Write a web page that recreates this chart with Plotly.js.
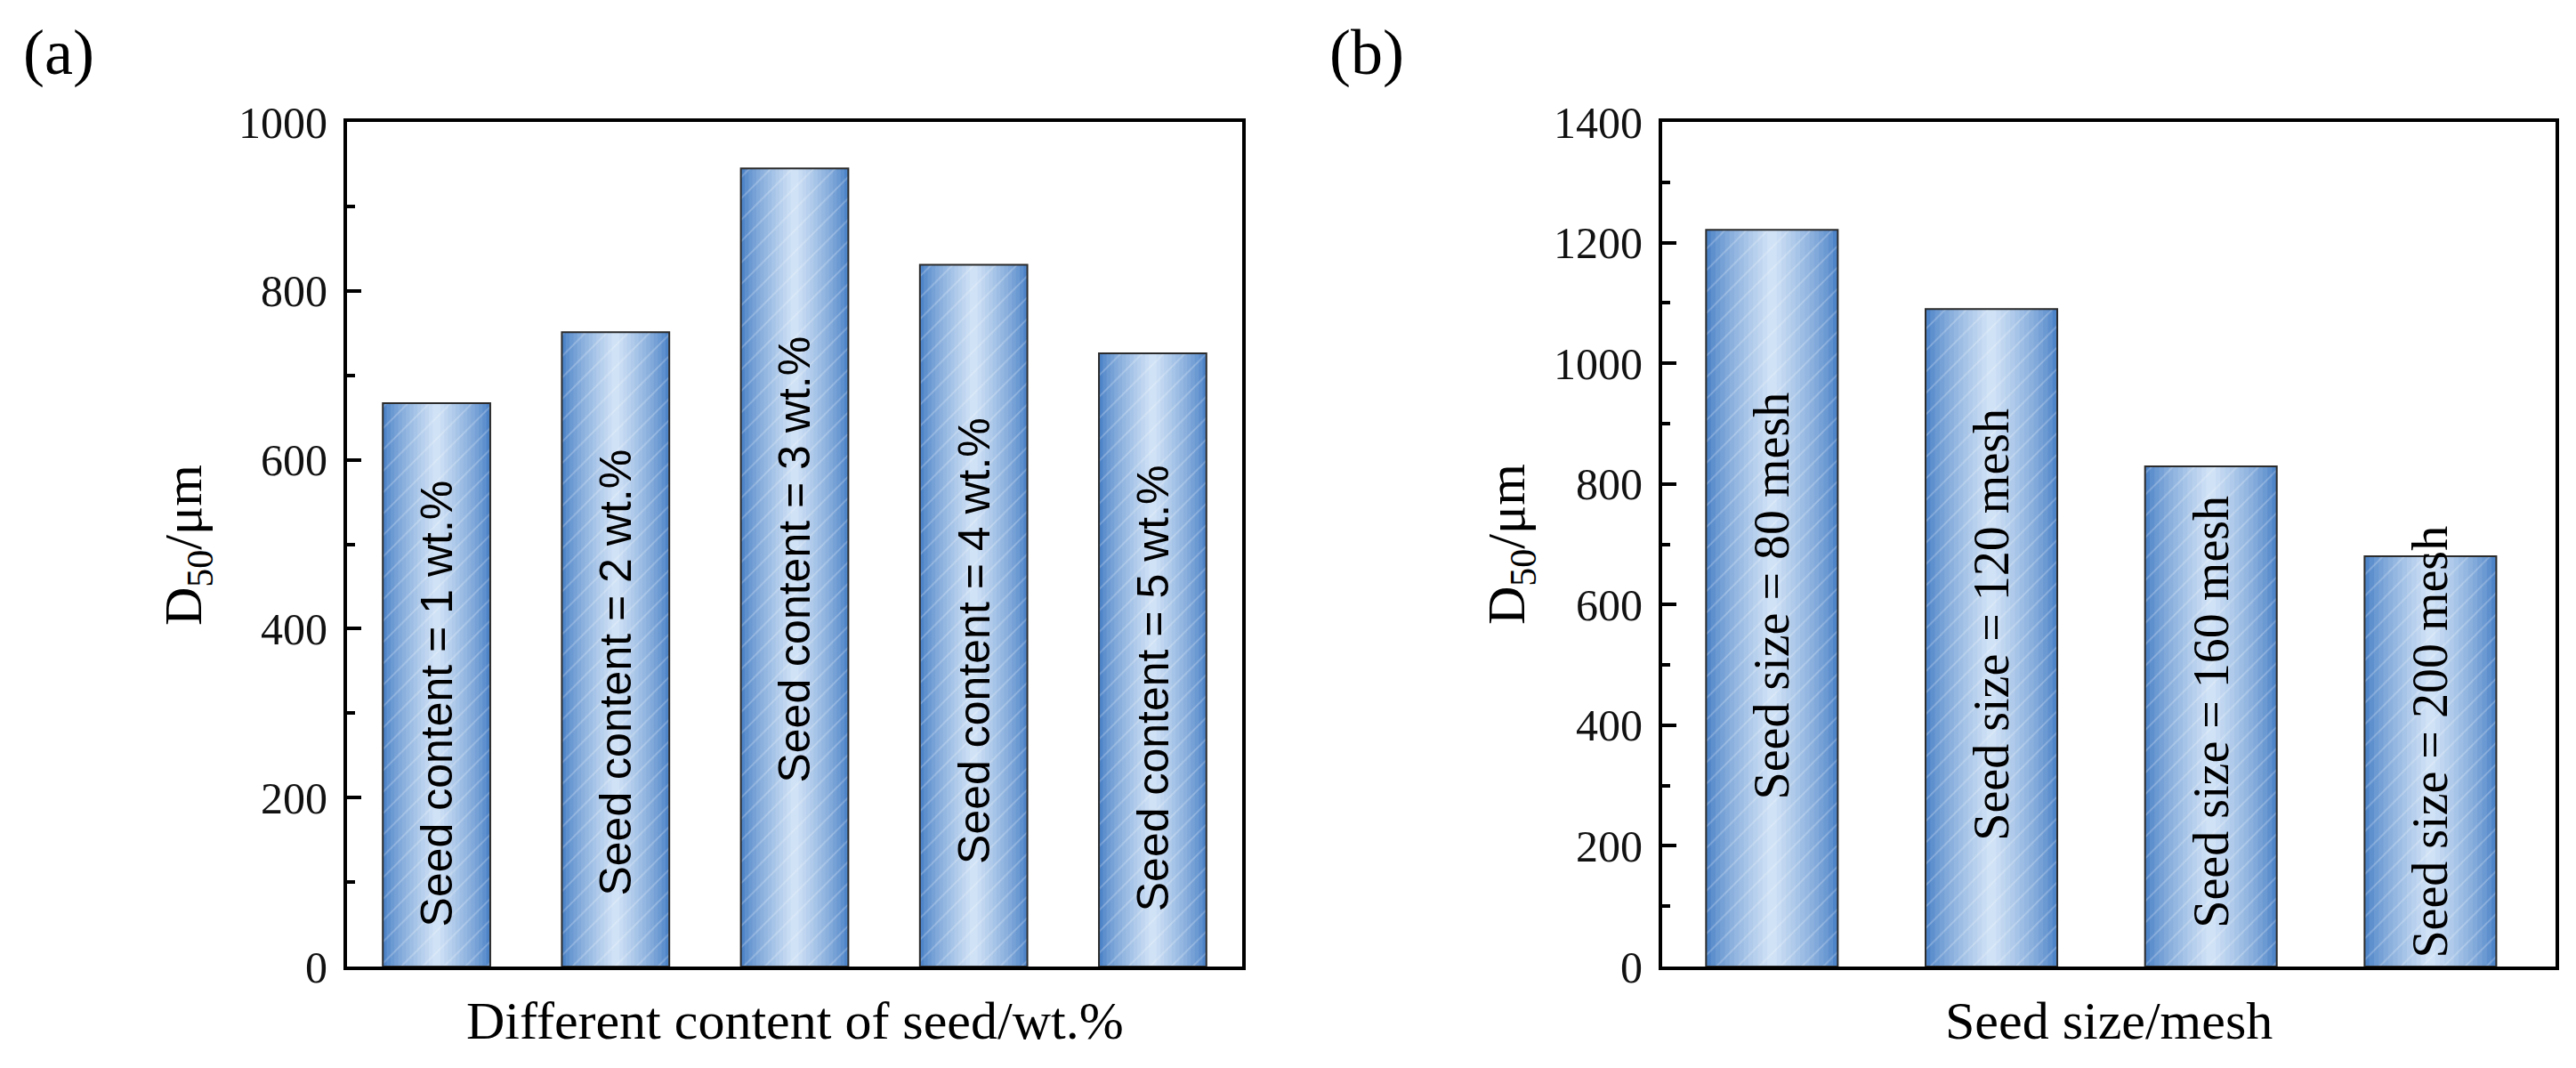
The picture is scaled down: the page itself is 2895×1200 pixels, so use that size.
<!DOCTYPE html>
<html>
<head>
<meta charset="utf-8">
<script src="https://cdn.plot.ly/plotly-3.0.1.min.js"></script>
<style>
  html, body { margin: 0; padding: 0; background: #ffffff; }
  #chart { width: 2895px; height: 1200px; }
</style>
</head>
<body>
<div id="chart"></div>
<script>
// ---------- DATA ----------
// Panel (a): different seed content
const seedContentLabels = ['Seed content = 1 wt.%', 'Seed content = 2 wt.%', 'Seed content = 3 wt.%', 'Seed content = 4 wt.%', 'Seed content = 5 wt.%'];
const d50ByContent = [667, 751, 945, 831, 726];
const contentLabelMid = [311, 348, 482, 386, 330];   // label centre height (µm) inside each bar

// Panel (b): different seed size
const seedSizeLabels = ['Seed size = 80 mesh', 'Seed size = 120 mesh', 'Seed size = 160 mesh', 'Seed size = 200 mesh'];
const d50BySize = [1221, 1090, 829, 680];
const sizeLabelMid = [615, 567, 422, 373];

const yTicksA = [0, 200, 400, 600, 800, 1000];
const yTicksB = [0, 200, 400, 600, 800, 1000, 1200, 1400];

const xTitleA = 'Different content of seed/wt.%';
const xTitleB = 'Seed size/mesh';
const yTitle = 'D<sub>50</sub>/μm';

// ---------- STYLE ----------
const W = 2895, H = 1200;
const SERIF = 'Liberation Serif, Times New Roman, serif';
const SANS = 'Liberation Sans, Arial, sans-serif';
const BAR_W = 0.6;
const edge = [78, 132, 200], center = [208, 226, 246];
const LAYERS = 14;

function gradientTraces(x, y, xa, ya) {
  const out = [];
  for (let k = 0; k < LAYERS; k++) {
    const t = k / (LAYERS - 1);
    const s = Math.pow(t, 0.8);
    const c = edge.map((e, i) => Math.round(e + (center[i] - e) * s));
    out.push({
      type: 'bar', x: x, y: y, xaxis: xa, yaxis: ya,
      width: BAR_W * (1 - k / LAYERS),
      marker: { color: 'rgb(' + c.join(',') + ')', line: { width: 0 } },
      hoverinfo: 'skip', showlegend: false
    });
  }
  out.push({
    type: 'bar', x: x, y: y, xaxis: xa, yaxis: ya, width: BAR_W,
    marker: {
      color: 'rgba(0,0,0,0)',
      line: { color: '#2b2b2b', width: 2 },
      pattern: { shape: '/', fgcolor: 'rgba(255,255,255,0.5)', fgopacity: 0.5, size: 17, solidity: 0.1, fillmode: 'overlay' }
    },
    showlegend: false
  });
  return out;
}

const traces = [].concat(
  gradientTraces(seedContentLabels, d50ByContent, 'x', 'y'),
  gradientTraces(seedSizeLabels, d50BySize, 'x2', 'y2')
);

const yBottom = (H - 1086) / H, yTop = (H - 137) / H;

function xAxis(domain, range) {
  return {
    domain: domain, range: range, type: 'category',
    showticklabels: false, ticks: '', showgrid: false, zeroline: false,
    showline: true, linecolor: '#000', linewidth: 4, mirror: true, fixedrange: true
  };
}
function yAxis(anchor, range, tickvals) {
  return {
    anchor: anchor, domain: [yBottom, yTop], range: range,
    tickmode: 'array', tickvals: tickvals, ticktext: tickvals.map(String),
    ticks: 'inside', ticklen: 16, tickwidth: 4, tickcolor: '#000',
    minor: { dtick: 100, ticks: 'inside', ticklen: 9, tickwidth: 4, tickcolor: '#000' },
    tickfont: { family: SERIF, size: 50, color: '#111' },
    ticklabelstandoff: 8,
    showgrid: false, zeroline: false,
    showline: true, linecolor: '#000', linewidth: 4, mirror: true, fixedrange: true
  };
}

const annotations = [];
seedContentLabels.forEach((lab, i) => {
  annotations.push({
    xref: 'x', yref: 'y', x: lab, y: contentLabelMid[i], text: lab, textangle: -90,
    showarrow: false, xanchor: 'center', yanchor: 'middle',
    font: { family: SANS, size: 50, color: '#000' }
  });
});
seedSizeLabels.forEach((lab, i) => {
  annotations.push({
    xref: 'x2', yref: 'y2', x: lab, y: sizeLabelMid[i], text: lab, textangle: -90,
    showarrow: false, xanchor: 'center', yanchor: 'middle',
    font: { family: SERIF, size: 56, color: '#000' }
  });
});
// axis titles and panel letters
const titleFont = { family: SERIF, size: 60, color: '#000' };
annotations.push(
  { xref: 'paper', yref: 'paper', x: 210 / W, y: (H - 612) / H, text: yTitle, textangle: -90, showarrow: false, xanchor: 'center', yanchor: 'middle', font: titleFont },
  { xref: 'paper', yref: 'paper', x: 1697 / W, y: (H - 612) / H, text: yTitle, textangle: -90, showarrow: false, xanchor: 'center', yanchor: 'middle', font: titleFont },
  { xref: 'paper', yref: 'paper', x: 893 / W, y: (H - 1147) / H, text: xTitleA, showarrow: false, xanchor: 'center', yanchor: 'middle', font: titleFont },
  { xref: 'paper', yref: 'paper', x: 2370 / W, y: (H - 1147) / H, text: xTitleB, showarrow: false, xanchor: 'center', yanchor: 'middle', font: titleFont },
  { xref: 'paper', yref: 'paper', x: 66 / W, y: (H - 59) / H, text: '(a)', showarrow: false, xanchor: 'center', yanchor: 'middle', font: { family: SERIF, size: 72, color: '#000' } },
  { xref: 'paper', yref: 'paper', x: 1536 / W, y: (H - 59) / H, text: '(b)', showarrow: false, xanchor: 'center', yanchor: 'middle', font: { family: SERIF, size: 72, color: '#000' } }
);

const layout = {
  width: W, height: H,
  margin: { l: 0, r: 0, t: 0, b: 0, pad: 0 },
  paper_bgcolor: '#ffffff', plot_bgcolor: '#ffffff',
  barmode: 'overlay', showlegend: false,
  xaxis: xAxis([390 / W, 1396 / W], [-0.5, 4.5]),
  yaxis: yAxis('x', [0, 1000], yTicksA),
  xaxis2: Object.assign(xAxis([1868 / W, 2872 / W], [-0.5, 3.57]), { anchor: 'y2' }),
  yaxis2: yAxis('x2', [0, 1400], yTicksB),
  annotations: annotations
};
layout.xaxis.anchor = 'y';

Plotly.newPlot('chart', traces, layout, { staticPlot: true, displayModeBar: false });
</script>
</body>
</html>
